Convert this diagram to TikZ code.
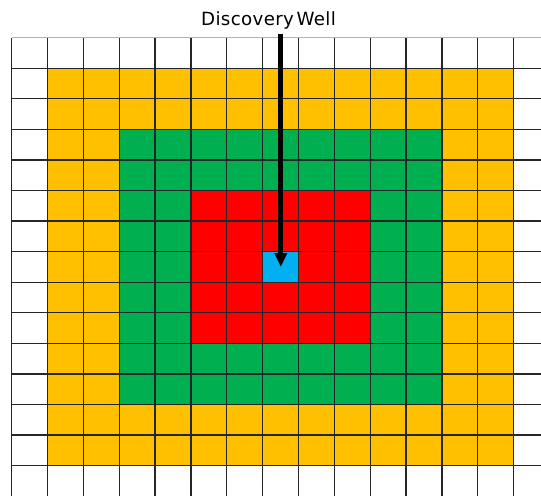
\documentclass[tikz,border=0pt]{standalone}
\usepackage{fontspec}
\setmainfont{DejaVu Sans}
\usetikzlibrary{arrows.meta}
\definecolor{orng}{HTML}{FFC000}
\definecolor{grn}{HTML}{00B050}
\definecolor{rd}{HTML}{FF0000}
\definecolor{blu}{HTML}{00B0F0}
\begin{document}
\begin{tikzpicture}[x=1pt,y=-1pt,
  gridline/.style={line width=1.3pt,draw=black!85},
  label/.style={font=\fontsize{18.2}{22}\selectfont,inner sep=0pt,anchor=base}]
\useasboundingbox (0,0) rectangle (541,496);
\def\cx{35.857}\def\cy{30.571}
\def\xo{11.7}\def\yo{37.7}
% filled zones
\fill[orng] (\xo+1*\cx,\yo+1*\cy) rectangle (\xo+14*\cx,\yo+14*\cy);
\fill[grn] (\xo+3*\cx,\yo+3*\cy) rectangle (\xo+12*\cx,\yo+12*\cy);
\fill[rd] (\xo+5*\cx,\yo+5*\cy) rectangle (\xo+10*\cx,\yo+10*\cy);
\fill[blu] (\xo+7*\cx,\yo+7*\cy) rectangle (\xo+8*\cx,\yo+8*\cy);
% grid
\foreach \k in {0,...,14}
  \draw[gridline] (\xo+\k*\cx,\yo) -- (\xo+\k*\cx,496);
\foreach \j in {1,...,14}
  \draw[gridline] (\xo+0,\yo+\j*\cy) -- (541,\yo+\j*\cy);
\draw[line width=1.3pt,draw=black!30] (\xo,\yo) -- (541,\yo);
% label and arrow
\node[label] (dw) at (268.5,25.5) {\addfontfeatures{LetterSpace=2}Discovery\hspace{2.5pt}Well};
\coordinate (top) at (280.8,34);
\coordinate (tip) at (280.8,267);
\draw[line width=5pt,-{Triangle[width=12pt,length=14pt]}] (top) -- (tip);
\end{tikzpicture}
\end{document}
